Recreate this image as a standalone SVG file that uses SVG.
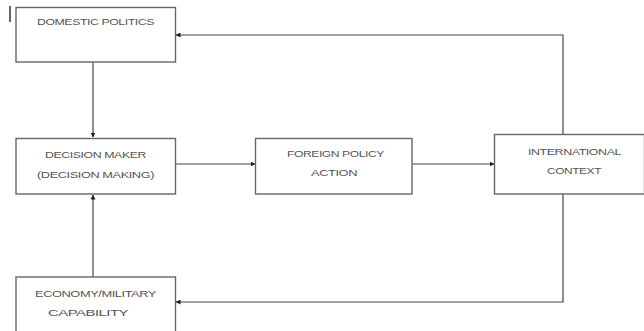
<svg xmlns="http://www.w3.org/2000/svg" width="644" height="331" viewBox="0 0 644 331">
<defs>
<style>
.box{fill:#fff;stroke:#666;stroke-width:1.4}
.t{font-family:"Liberation Sans",Arial,sans-serif;font-size:9px;fill:#555;text-anchor:middle;dominant-baseline:central;letter-spacing:-0.3px}
.c{fill:none;stroke:#444;stroke-width:1.2}
</style>
<marker id="ah" viewBox="0 0 10 10" refX="9" refY="5" markerWidth="5" markerHeight="5" orient="auto" markerUnits="userSpaceOnUse">
<path d="M0,0 L10,5 L0,10 z" fill="#222"/>
</marker>
</defs>
<rect width="644" height="331" fill="#fff"/>
<line x1="10" y1="6" x2="10" y2="22" stroke="#333" stroke-width="1.5"/>
<g id="connectors">
<path class="c" d="M93,62 V137" marker-end="url(#ah)"/>
<path class="c" d="M93,277 V195" marker-end="url(#ah)"/>
<path class="c" d="M176,164 H255" marker-end="url(#ah)"/>
<path class="c" d="M412,164 H494" marker-end="url(#ah)"/>
<path class="c" d="M563,134 V35 H176" marker-end="url(#ah)"/>
<path class="c" d="M563,194 V302 H176" marker-end="url(#ah)"/>
</g>
<g id="domestic">
<rect class="box" x="16" y="7.5" width="159.5" height="54.5"/>
<text class="t" x="95.5" y="22" textLength="117" lengthAdjust="spacingAndGlyphs">DOMESTIC POLITICS</text>
</g>
<g id="decision">
<rect class="box" x="16" y="138.5" width="159.5" height="55.5"/>
<text class="t" x="95.5" y="155" textLength="101" lengthAdjust="spacingAndGlyphs">DECISION MAKER</text>
<text class="t" x="95.5" y="175" textLength="117" lengthAdjust="spacingAndGlyphs">(DECISION MAKING)</text>
</g>
<g id="foreign">
<rect class="box" x="255.5" y="138.5" width="156.5" height="55.5"/>
<text class="t" x="335.5" y="154" textLength="97" lengthAdjust="spacingAndGlyphs">FOREIGN POLICY</text>
<text class="t" x="334" y="173" textLength="46" lengthAdjust="spacingAndGlyphs">ACTION</text>
</g>
<g id="international">
<rect class="box" x="494.5" y="134.5" width="150" height="59.5"/>
<text class="t" x="574.5" y="152" textLength="93" lengthAdjust="spacingAndGlyphs">INTERNATIONAL</text>
<text class="t" x="574" y="171" textLength="54" lengthAdjust="spacingAndGlyphs">CONTEXT</text>
</g>
<g id="economy">
<rect class="box" x="16" y="277" width="159.5" height="60"/>
<text class="t" x="95.5" y="294" textLength="121" lengthAdjust="spacingAndGlyphs">ECONOMY/MILITARY</text>
<text class="t" x="88" y="313" textLength="80" lengthAdjust="spacingAndGlyphs">CAPABILITY</text>
</g>
</svg>
